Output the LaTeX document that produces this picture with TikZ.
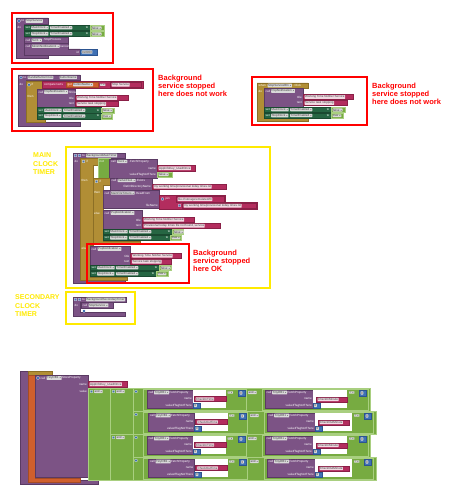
\documentclass[tikz,border=0pt]{standalone}
\usepackage{fontspec}
\setmainfont{Liberation Sans}
\definecolor{pur}{HTML}{7C5385}
\definecolor{purD}{HTML}{5A3A63}
\definecolor{oli}{HTML}{B18E35}
\definecolor{oliD}{HTML}{8C6F25}
\definecolor{dgr}{HTML}{266643}
\definecolor{dgrD}{HTML}{1A4A30}
\definecolor{lgr}{HTML}{77AB41}
\definecolor{lgrL}{HTML}{A9CF80}
\definecolor{pnk}{HTML}{B32D5E}
\definecolor{pnkD}{HTML}{8A2047}
\definecolor{blu}{HTML}{3F71B5}
\definecolor{bluD}{HTML}{2C5490}
\definecolor{org}{HTML}{D05F2D}
\definecolor{ylw}{HTML}{FFEA00}
\newcounter{tn}
\newcommand{\tf}{\fontsize{3}{3.2}\selectfont}
\newcommand{\dd}{{\fontsize{1.8}{2}\selectfont ▼}}
\tikzset{
  P/.style={fill=pur,draw=purD,line width=0.3pt},
  O/.style={fill=oli,draw=oliD,line width=0.3pt},
  G/.style={fill=dgr,draw=dgrD,line width=0.3pt},
  L/.style={fill=lgr,draw=lgrL,line width=0.3pt},
  K/.style={fill=pnk,draw=pnkD,line width=0.3pt},
  U/.style={fill=blu,draw=bluD,line width=0.3pt},
  R/.style={fill=org,draw=org!80!black,line width=0.3pt},
  lb/.style={font=\tf,text=white,inner sep=0pt,anchor=west},
  lbe/.style={lb,anchor=east},
  fd/.style={font=\tf,text=black!75,fill=white!85!black,rounded corners=0.4pt,inner sep=0.45pt,anchor=west},
  sf/.style={fd,fill=white!82!pnk},
  gear/.style={fill=blu,draw=white,line width=0.2pt,minimum size=2.4pt,inner sep=0pt,rounded corners=0.3pt},
  rbx/.style={draw=red,line width=1.3pt},
  ybx/.style={draw=ylw,line width=1.8pt},
  rl/.style={font=\fontsize{7.5}{8.4}\selectfont\bfseries,text=red,align=left,anchor=north west,inner sep=0pt},
  yl/.style={font=\fontsize{7}{8.6}\selectfont\bfseries,text=ylw,align=left,anchor=north west,inner sep=0pt},
}
\newcommand{\T}[4]{\stepcounter{tn}\node[#1] (t\thetn) at ({#2},{#3}) {#4};}
\newcommand{\Gear}[2]{\stepcounter{tn}\node[gear] (t\thetn) at ({#1},{#2}) {};}
\newcommand{\Bk}[5]{\filldraw[#1] ({#2},{#3}) rectangle ({#4},{#5});}
\newcommand{\Str}[5]{\Bk{K}{#1}{#2}{#3}{#4}\T{sf}{#1+1.5}{(#2+#4)/2}{#5}}
\newcommand{\SetRow}[6]{%
 \Bk{G}{#1}{#2}{#3}{#2+5.5}
 \T{lb}{#1+1.5}{#2+2.75}{set}
 \T{fd}{#1+7}{#2+2.75}{#4 \dd}
 \T{fd}{#1+26}{#2+2.75}{TimerEnabled \dd}
 \T{lbe}{#3-1.5}{#2+2.75}{to}
 \Bk{L}{#3}{#2+0.5}{#6}{#2+5.5}
 \T{fd}{#3+1.5}{#2+3}{#5 \dd}}
\newcommand{\Row}[6]{%
 \Gear{136}{#1+3.5}
 \draw[lgrL,line width=0.4pt] ({143},{#1+1}) rectangle ({246+#2},{#1+22});
 \Bk{P}{147+#2}{#1+2}{193+#2}{#1+20}
 \fill[white] ({193+#2},{#1+2}) rectangle ({226+#2},{#1+20});
 \T{lb}{148.5+#2}{#1+4.5}{call}
 \T{fd}{154+#2}{#1+4.5}{TinyDB1 \dd}
 \T{lb}{168.5+#2}{#1+4.5}{.FetchProperty}
 \T{lbe}{192+#2}{#1+11}{name}
 \T{lbe}{192+#2}{#1+17.5}{valueIfTagNotThere}
 \Str{194+#2}{#1+8.5}{226+#2}{#1+13.5}{#3}
 \Bk{U}{193+#2}{#1+15}{200+#2}{#1+20}
 \T{fd}{194+#2}{#1+17.5}{0}
 \T{fd}{227.5+#2}{#1+4.5}{= \dd}
 \Bk{U}{238+#2}{#1+2}{245+#2}{#1+8}
 \T{fd}{239.5+#2}{#1+5}{0}
 \T{fd}{248+#4}{#1+4.5}{and \dd}
 \draw[lgrL,line width=0.4pt] ({262+#4},{#1+1}) rectangle ({368+#6},{#1+22});
 \Bk{P}{265+#4}{#1+2}{313+#4}{#1+20}
 \fill[white] ({313+#4},{#1+2}) rectangle ({347+#6},{#1+20});
 \T{lb}{266.5+#4}{#1+4.5}{call}
 \T{fd}{272+#4}{#1+4.5}{TinyDB1 \dd}
 \T{lb}{286.5+#4}{#1+4.5}{.FetchProperty}
 \T{lbe}{312+#4}{#1+11}{name}
 \T{lbe}{312+#4}{#1+17.5}{valueIfTagNotThere}
 \Str{316+#4}{#1+9}{347+#4}{#1+14}{#5}
 \Bk{U}{313+#4}{#1+15}{320+#4}{#1+20}
 \T{fd}{314+#4}{#1+17.5}{0}
 \T{fd}{349+#6}{#1+4.5}{= \dd}
 \Bk{U}{359+#6}{#1+2}{366+#6}{#1+8}
 \T{fd}{360.5+#6}{#1+5}{0}}
\begin{document}
\begin{tikzpicture}[x=1pt,y=-1pt]
\useasboundingbox (0,0) rectangle (460,500);
\fill[white] (0,0) rectangle (460,500);

% ---------- group 1: StopService ----------
\filldraw[P] (16,18)--(48,18)--(48,24)--(24,24)--(24,55)--(48,55)--(48,58)--(16,58)--cycle;
\Gear{19}{21}
\T{lb}{21.5}{21}{to}
\T{fd}{25.5}{21}{StopService}
\T{lb}{17.5}{27.5}{do}
\SetRow{24}{25}{90}{MainClock}{false}{104}
\SetRow{24}{31}{90}{StopClock}{false}{104}
\Bk{P}{24}{37.5}{68}{43}
\T{lb}{25.5}{40.25}{call}
\T{fd}{31.5}{40.25}{Svc1 \dd}
\T{lb}{43}{40.25}{.StopProcess}
\filldraw[P] (24,43.5)--(68,43.5)--(68,49)--(80,49)--(80,55)--(24,55)--cycle;
\T{lb}{25.5}{46.25}{call}
\T{fd}{31.5}{46.25}{MinimNotification1 \dd}
\T{lb}{58.5}{46.25}{.Cancel}
\T{lbe}{79}{52}{id}
\Bk{U}{80}{49}{97}{55}
\T{fd}{81.5}{52}{0x0000}
\draw[rbx] (12,13) rectangle (113,63);

% ---------- group 2 ----------
\filldraw[P] (18,75)--(80,75)--(80,80)--(26,80)--(26,122)--(80,122)--(80,126)--(18,126)--cycle;
\Gear{21}{77.5}
\T{lb}{23.5}{77.5}{to}
\T{fd}{27.5}{77.5}{HandleButtonClick}
\T{fd}{59.5}{77.5}{buttonName}
\T{lb}{19.5}{84}{do}
\filldraw[O] (26,81)--(42,81)--(42,89)--(37,89)--(37,118.5)--(45,118.5)--(45,122)--(26,122)--cycle;
\Gear{29}{84.75}
\T{lb}{31.5}{84.75}{if}
\T{lb}{27.5}{96}{then}
\Bk{K}{42}{81}{143}{88.5}
\T{lb}{44}{84.75}{compare texts}
\Bk{R}{66}{82}{98}{87.5}
\T{lb}{67.5}{84.75}{get}
\T{fd}{73}{84.75}{buttonName \dd}
\T{fd}{100}{84.75}{= \dd}
\Str{110}{82}{141}{87.5}{Stop Service}
\Bk{P}{37}{89.5}{75}{107}
\T{lb}{38.5}{92}{call}
\T{fd}{44}{92}{PopNotification \dd}
\T{lb}{67.5}{92}{.Show}
\T{lbe}{74}{98}{title}
\T{lbe}{74}{104}{text}
\Str{75}{95.5}{128}{100.5}{Working Time Notifier Service}
\Str{75}{101.5}{118}{106.5}{Service task stopping}
\SetRow{37}{107.5}{101}{MainClock}{false}{114}
\SetRow{37}{113.25}{101}{StopClock}{true}{112}
\draw[rbx] (12,69) rectangle (153,131);
\T{rl}{158}{74.5}{Background\\service stopped\\here does not work}

% ---------- group 3 ----------
\filldraw[O] (257,83)--(308,83)--(308,88)--(264,88)--(264,118)--(308,118)--(308,121)--(257,121)--cycle;
\T{lb}{258.5}{85.5}{when}
\T{fd}{267.5}{85.5}{StopServiceBtn \dd}
\T{lb}{293.5}{85.5}{.Click}
\T{lb}{258.5}{91}{do}
\Bk{P}{264}{88.5}{303}{107}
\T{lb}{265.5}{91}{call}
\T{fd}{271}{91}{PopNotification \dd}
\T{lbe}{302}{97}{title}
\T{lbe}{302}{103}{text}
\Str{303}{94.5}{353}{99.5}{Working Time Notifier Service}
\Str{303}{100.5}{347}{105.5}{Service task stopping}
\SetRow{264}{107}{331}{MainClock}{false}{345}
\SetRow{264}{112.75}{331}{StopClock}{true}{343}
\draw[rbx] (252,77) rectangle (367,125);
\T{rl}{372}{82.5}{Background\\service stopped\\here does not work}

% ---------- main clock timer ----------
\filldraw[P] (73,153)--(125,153)--(125,158)--(80,158)--(80,280)--(125,280)--(125,283.5)--(73,283.5)--cycle;
\Gear{75.5}{155.5}
\Gear{79.5}{155.5}
\T{lb}{82}{155.5}{to}
\T{fd}{86}{155.5}{BackgroundMainTimer}
\T{lb}{74.5}{161}{do}
\filldraw[O] (80,158)--(98,158)--(98,165.5)--(93,165.5)--(93,245)--(90,245)--(90,277)--(127,277)--(127,280)--(80,280)--cycle;
\Gear{83.5}{161.5}
\T{lb}{86}{161.5}{if}
\T{lb}{81.5}{180.5}{then}
\T{lb}{81.5}{248.5}{else}
\Bk{L}{98}{158.5}{110}{180}
\T{lb}{99.5}{161.5}{not}
\Bk{P}{109.5}{159}{157}{178}
\T{lb}{111}{161.5}{call}
\T{fd}{117}{161.5}{Svc1 \dd}
\T{lb}{129}{161.5}{.FetchProperty}
\T{lbe}{156}{168.5}{name}
\T{lbe}{156}{174.5}{valueIfTagNotThere}
\Str{157}{165.5}{195}{171}{AppInfoKey\_UsedOnce}
\Bk{L}{157}{172}{172}{177}
\T{fd}{158.5}{174.5}{false \dd}
% inner if
\filldraw[O] (93,178)--(110,178)--(110,185)--(103,185)--(103,241)--(140,241)--(140,244.5)--(93,244.5)--cycle;
\Gear{96.5}{181.5}
\T{lb}{99}{181.5}{if}
\T{lb}{94}{192.5}{then}
\T{lb}{94}{213.5}{else}
\Bk{P}{110}{178}{152}{190.5}
\T{lb}{111.5}{180.5}{call}
\T{fd}{117.5}{180.5}{TaifunFile1 \dd}
\T{lb}{136}{180.5}{.Exists}
\T{lbe}{151}{187}{fileOrDirectoryName}
\Str{152}{184}{226}{189.5}{my working time/provisional today times.txt}
\Bk{P}{103}{190.5}{159}{208.5}
\T{lb}{104.5}{193}{call}
\T{fd}{110.5}{193}{MainFileTimers \dd}
\T{lb}{135}{193}{.ReadFrom}
\T{lbe}{158}{205}{fileName}
\filldraw[K] (159,195.5)--(225,195.5)--(225,202.5)--(257,202.5)--(257,209)--(159,209)--cycle;
\Gear{162.5}{199}
\T{lb}{165}{199}{join}
\Str{176}{196.5}{224}{202}{file:///storage/emulated/0/}
\Gear{179.5}{205.5}
\Str{182}{203}{256}{208.5}{my working time/provisional today times.txt}
\Bk{P}{103}{210.5}{142}{229}
\T{lb}{104.5}{213}{call}
\T{fd}{110.5}{213}{PopNotification \dd}
\T{lbe}{141}{220}{title}
\T{lbe}{141}{226}{text}
\Str{142}{217}{194}{222.5}{Working Time Notifier Service}
\Str{142}{223}{220}{228.5}{Provisional today times file not found, service}
\SetRow{103}{229}{172}{MainClock}{false}{183}
\SetRow{103}{235}{170}{StopClock}{true}{181}
% outer else
\Bk{P}{90}{246.5}{130.5}{265}
\T{lb}{91.5}{249}{call}
\T{fd}{97.5}{249}{PopNotification \dd}
\T{lbe}{129.5}{256}{title}
\T{lbe}{129.5}{262}{text}
\Str{130.5}{253}{181}{258.5}{Working Time Notifier Service}
\Str{130.5}{259}{171}{264.5}{Service task stopping}
\SetRow{90}{265}{159}{MainClock}{false}{171}
\SetRow{90}{271}{156}{StopClock}{true}{168}
\draw[rbx] (87,244) rectangle (189,283);
\T{rl}{193}{249.5}{Background\\service stopped\\here OK}
\draw[ybx] (66,147) rectangle (270,288);
\T{yl}{33}{152.5}{MAIN\\CLOCK\\TIMER}

% ---------- secondary clock timer ----------
\filldraw[P] (73,297)--(126,297)--(126,302)--(80,302)--(80,312.5)--(125,312.5)--(125,316)--(73,316)--cycle;
\Gear{75.5}{299.5}
\Gear{79.5}{299.5}
\T{lb}{82}{299.5}{to}
\T{fd}{86}{299.5}{BackgroundSecondaryTimer}
\T{lb}{74.5}{305}{do}
\Bk{P}{81}{302.5}{113}{308}
\T{lb}{82.5}{305.25}{call}
\T{fd}{88.5}{305.25}{StopService \dd}
\Gear{84}{311}
\draw[ybx] (66,292) rectangle (135,324);
\T{yl}{15}{294.5}{SECONDARY\\CLOCK\\TIMER}

% ---------- bottom block ----------
\filldraw[P] (20,371)--(28,371)--(28,480)--(98,480)--(98,484)--(20,484)--cycle;
\Bk{O}{28}{371}{52}{375}
\filldraw[R] (28,375)--(35,375)--(35,478)--(80,478)--(80,482)--(28,482)--cycle;
\Bk{P}{35}{375}{88}{477.5}
\Gear{38}{378}
\T{lb}{40.5}{378}{call}
\T{fd}{46.5}{378}{TinyDB1 \dd}
\T{lb}{61}{378}{.StoreProperty}
\T{lbe}{87}{384.5}{name}
\T{lbe}{87}{391}{value}
\Str{88}{381.5}{127}{387}{AppInfoKey\_UsedOnce}
\filldraw[fill=lgr,draw=lgrL,line width=0.4pt] (88,388)--(370,388)--(370,411)--(376,411)--(376,434)--(370,434)--(370,457)--(376,457)--(376,480)--(88,480)--cycle;
\draw[lgrL,line width=0.5pt] (110,388)--(110,480) (133,388)--(133,480) (110,434)--(370,434) (133,411)--(370,411) (133,457)--(370,457);
\Gear{91.5}{391.5}
\T{fd}{94}{391.5}{and \dd}
\Gear{113.5}{391.5}
\T{fd}{116}{391.5}{and \dd}
\Gear{113.5}{437.5}
\T{fd}{116}{437.5}{and \dd}
\Row{388}{0}{CheckInTime}{0}{CheckInMinute}{0}
\Row{411}{1.5}{CheckOutTime}{2}{CheckOutMinute}{5}
\Row{434}{0}{CheckInTime}{0}{CheckInMinute}{0}
\Row{457}{1.5}{CheckOutTime}{2}{CheckOutMinute}{5}
\end{tikzpicture}
\end{document}
